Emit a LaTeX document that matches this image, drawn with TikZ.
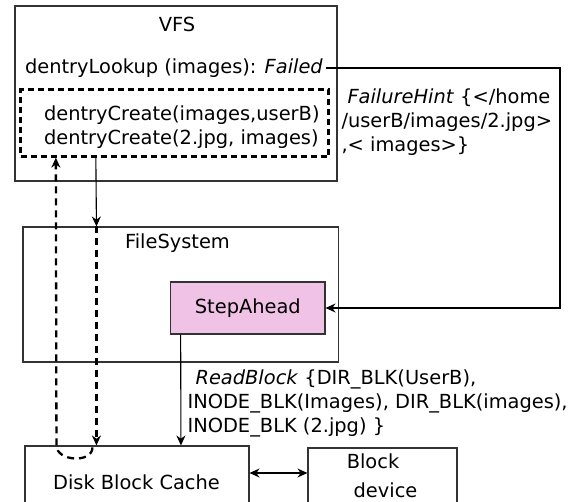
\documentclass[tikz,border=0pt]{standalone}
\usepackage{fontspec}
\setmainfont{DejaVu Sans}
\usetikzlibrary{arrows.meta}
\definecolor{steppink}{RGB}{240,194,230}

\begin{document}
\begin{tikzpicture}[x=1pt, y=-1pt, line width=1.1pt,
		every node/.style={font=\fontsize{19.4}{24}\selectfont, inner sep=0pt, align=left},
		box/.style={draw=black!80, rectangle},
		dashbox/.style={draw, rectangle, line width=2.3pt, dash pattern=on 6pt off 4pt},
		dashline/.style={line width=2.3pt, dash pattern=on 7pt off 5pt},
		arr/.style={-{Stealth[length=10pt,width=9pt]}},
		dbl/.style={{Stealth[length=10pt,width=9pt]}-{Stealth[length=10pt,width=9pt]}}]
			\useasboundingbox (0,0) rectangle (584,501);
			
			\node[box, minimum width=322pt, minimum height=175pt] (vfs) at (176,93.5) {};
			\node[anchor=base] (vfstitle) at (177,31.5) {VFS};
			\node[anchor=base west, inner xsep=3pt] (lookup) at (21.5,73.3) {dentryLookup (images): \textit{Failed}};
			\node[dashbox, minimum width=308pt, minimum height=67pt] (create) at (174.5,123) {};
			\node[anchor=north west] (createtext) at (43.5,105.3) {dentryCreate(images,userB)\\dentryCreate(2.jpg, images)};
			\node[anchor=north west] (hint) at (341,88) {\hspace*{6pt}\textit{FailureHint} \{</home\\/userB/images/2.jpg>\\,< images>\}};
			
			\node[box, minimum width=315.5pt, minimum height=135pt] (fs) at (180.75,294.5) {};
			\node[anchor=base west] (fstitle) at (124.5,248.3) {FileSystem};
			\node[box, fill=steppink, minimum width=154.3pt, minimum height=52pt] (step) at (247.85,308) {StepAhead};
			
			\node[anchor=north west] (readblk) at (187,369.3) {\hspace*{8pt}\textit{ReadBlock} \{DIR\_BLK(UserB),\\INODE\_BLK(Images), DIR\_BLK(images),\\INODE\_BLK (2.jpg) \}};
			
			\node[box, minimum width=224pt, minimum height=60pt] (cache) at (137,476) {};
			\node[anchor=base] (cachetext) at (136.5,489) {Disk Block Cache};
			\node[box, minimum width=149pt, minimum height=58pt] (device) at (382.5,477) {};
			\node[anchor=base] (block) at (373,468.5) {Block};
			\node[anchor=base] (blockdev) at (385.5,497) {device};
			
			\coordinate (turn) at (560,308);
			\draw[arr] (lookup.east) -| (turn) -- (step.east);
			\draw[arr] ([xshift=76.5pt]create.south west) -- ([xshift=74pt]fs.north west);
			\draw[dashline, arr] ([xshift=74pt]fs.north west) -- ([xshift=72pt]cache.north west);
			\draw[dashline, arr] ([xshift=68pt,yshift=-2pt]cache.north west) .. controls +(0,16) and +(0,16) .. ([xshift=32pt]cache.north west) -- ([xshift=36.5pt]create.south west);
			\draw[arr] ([xshift=10.5pt]step.south west) -- ([xshift=156.5pt]cache.north west);
			\draw[dbl] ([yshift=3pt]cache.east) -- ([yshift=4pt]device.west);
		\end{tikzpicture}
\end{document}
